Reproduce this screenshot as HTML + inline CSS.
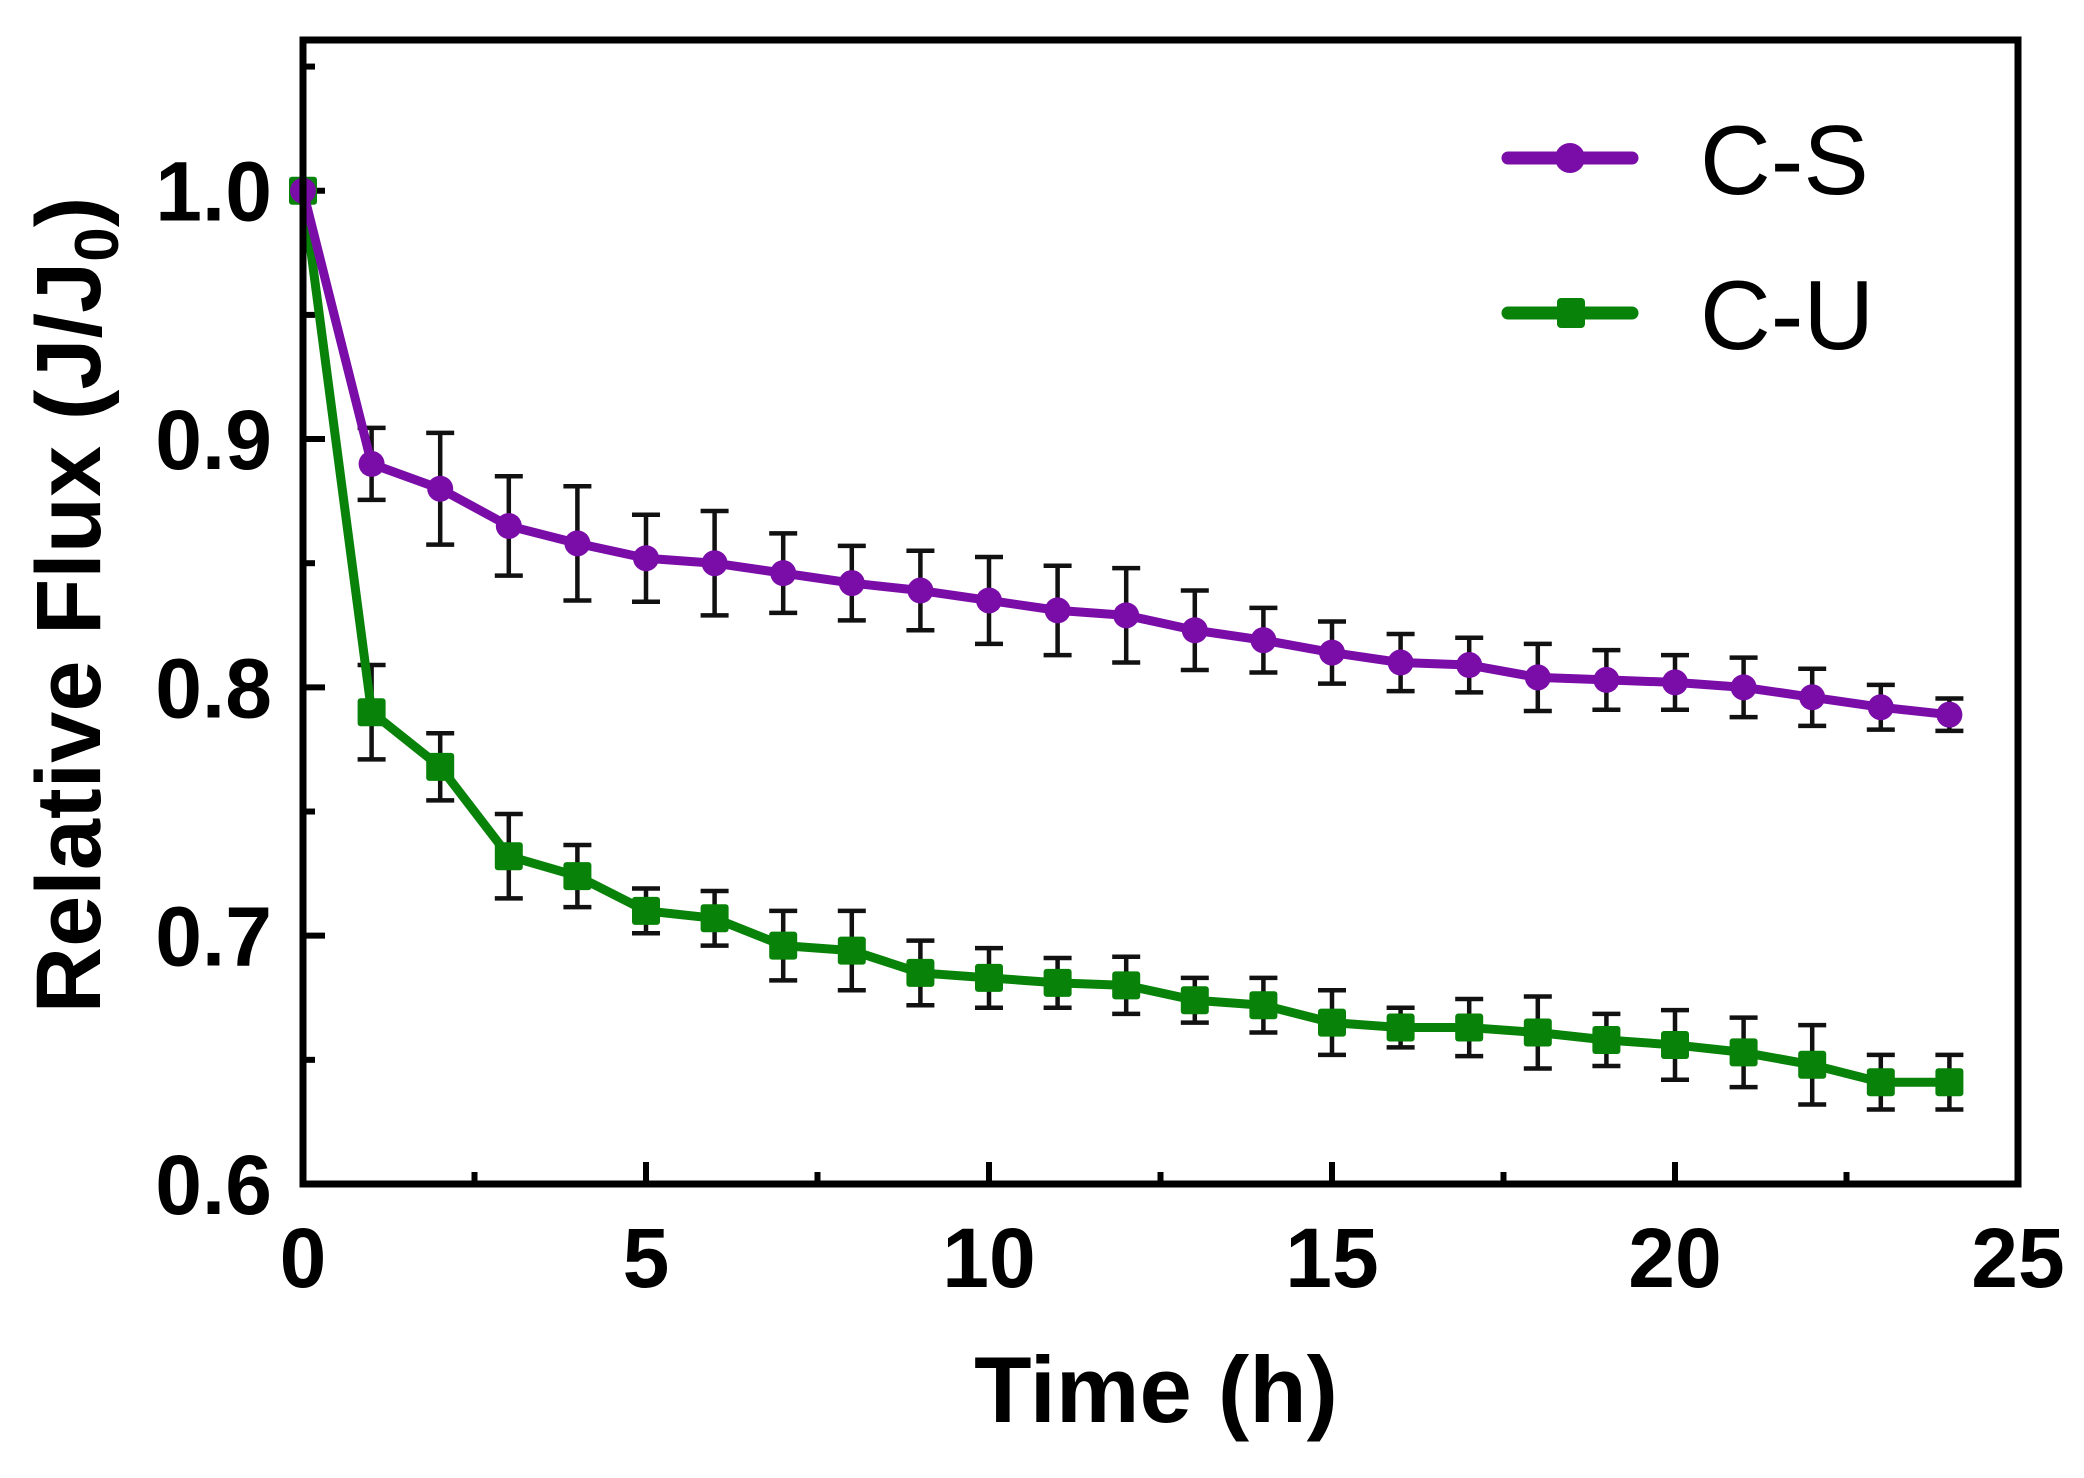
<!DOCTYPE html>
<html><head><meta charset="utf-8"><style>
html,body{margin:0;padding:0;background:#fff;}
svg text{font-family:"Liberation Sans",Arial,sans-serif;}
</style></head><body>
<svg id="chart" width="2084" height="1473" viewBox="0 0 2084 1473" xmlns="http://www.w3.org/2000/svg">
<g id="plot"></g>
</svg>
<script>
const times = [0,1,2,3,4,5,6,7,8,9,10,11,12,13,14,15,16,17,18,19,20,21,22,23,24];
const csValues = [1.0,0.89,0.88,0.865,0.858,0.852,0.85,0.846,0.842,0.839,0.835,0.831,0.829,0.823,0.819,0.814,0.81,0.809,0.804,0.803,0.802,0.8,0.796,0.792,0.789];
const csErrors = [0,0.0145,0.0225,0.02,0.023,0.0175,0.021,0.016,0.015,0.016,0.0175,0.018,0.019,0.016,0.013,0.0125,0.0115,0.011,0.0135,0.012,0.011,0.012,0.0115,0.009,0.0065];
const cuValues = [1.0,0.79,0.768,0.732,0.724,0.71,0.707,0.696,0.694,0.685,0.683,0.681,0.68,0.674,0.672,0.665,0.663,0.663,0.661,0.658,0.656,0.653,0.648,0.641,0.641];
const cuErrors = [0,0.019,0.0135,0.017,0.0125,0.009,0.011,0.014,0.016,0.013,0.012,0.01,0.0115,0.009,0.011,0.013,0.008,0.0115,0.0145,0.0105,0.014,0.014,0.016,0.011,0.011];
const xTicks = [0,5,10,15,20,25];
const xTickLabels = ["0","5","10","15","20","25"];
const yTicks = [0.6,0.7,0.8,0.9,1.0];
const yTickLabels = ["0.6","0.7","0.8","0.9","1.0"];

const L=303,R=2018,T=40,B=1184;
const xMin=0,xMax=25,yMin=0.6,yMax=1.0607;
function xs(v){return L+(v-xMin)/(xMax-xMin)*(R-L);}
function ys(v){return B-(v-yMin)/(yMax-yMin)*(B-T);}
const NS="http://www.w3.org/2000/svg";
const g=document.getElementById('plot');
function mk(tag,attrs,parent){const e=document.createElementNS(NS,tag);for(const k in attrs)e.setAttribute(k,attrs[k]);(parent||g).appendChild(e);return e;}

for(let v=0;v<=25.001;v+=2.5){
  const major=Math.abs(v/5-Math.round(v/5))<1e-6;
  const t=mk('line',{x1:xs(v),x2:xs(v),y1:B,y2:B-(major?22:12),stroke:'#000','stroke-width':6});
  
  
}
for(let v=0.6;v<=1.06;v+=0.05){
  const major=Math.abs(v/0.1-Math.round(v/0.1))<1e-6;
  const t=mk('line',{x1:L,x2:L+(major?22:12),y1:ys(v),y2:ys(v),stroke:'#000','stroke-width':6});
  
  
}
xTicks.forEach((v,i)=>{
  const t=mk('text',{x:xs(v),y:1287,'text-anchor':'middle','font-size':84,'font-weight':'bold'});
  t.textContent=xTickLabels[i];
  
  
});
yTicks.forEach((v,i)=>{
  const t=mk('text',{x:272,y:ys(v)+30,'text-anchor':'end','font-size':84,'font-weight':'bold'});
  t.textContent=yTickLabels[i];
  
  
});

function series(vals,errs,color,name,square){
  errs.forEach((e,i)=>{
    if(e<=0)return;
    const x=xs(times[i]),y1=ys(vals[i]-e),y2=ys(vals[i]+e);
    const eb=mk('path',{d:`M${x},${y1}V${y2}M${x-14},${y1}H${x+14}M${x-14},${y2}H${x+14}`,stroke:'#111','stroke-width':4.5,fill:'none'});
    
    
  });
  const pts=vals.map((v,i)=>xs(times[i])+','+ys(v)).join(' ');
  const pl=mk('polyline',{points:pts,stroke:color,'stroke-width':9,fill:'none','stroke-linejoin':'round'});
  
  
  vals.forEach((v,i)=>{
    let m;
    if(square)m=mk('rect',{x:xs(times[i])-14,y:ys(v)-14,width:28,height:28,rx:3,fill:color});
    else m=mk('circle',{cx:xs(times[i]),cy:ys(v),r:13,fill:color});
    
    
  });
}
series(cuValues,cuErrors,'#088208','c-u',true);
series(csValues,csErrors,'#7a0ca8','c-s',false);

const fr=mk('rect',{x:L,y:T,width:R-L,height:B-T,fill:'none',stroke:'#000','stroke-width':7});



function legend(y,color,label,square){
  const ln=mk('line',{x1:1508,x2:1632,y1:y,y2:y,stroke:color,'stroke-width':13,'stroke-linecap':'round'});
  
  
  let m;
  if(square)m=mk('rect',{x:1557,y:y-15,width:28,height:30,rx:4,fill:color});
  else m=mk('circle',{cx:1570,cy:y,r:15,fill:color});
  
  
  const t=mk('text',{x:1700,y:y+36,'font-size':98});
  t.textContent=label;
  
  
}
legend(158,'#7a0ca8','C-S',false);
legend(313,'#088208','C-U',true);

const xt=mk('text',{x:1156,y:1422,'text-anchor':'middle','font-size':94,'font-weight':'bold'});
xt.textContent='Time (h)';


const yt=mk('text',{x:0,y:0,'text-anchor':'middle','font-size':92,'font-weight':'bold',transform:'translate(100,605) rotate(-90)'});
yt.innerHTML='Relative Flux (J/J<tspan font-size="62" dy="18">0</tspan><tspan dy="-18">)</tspan>';


</script>
</body></html>
